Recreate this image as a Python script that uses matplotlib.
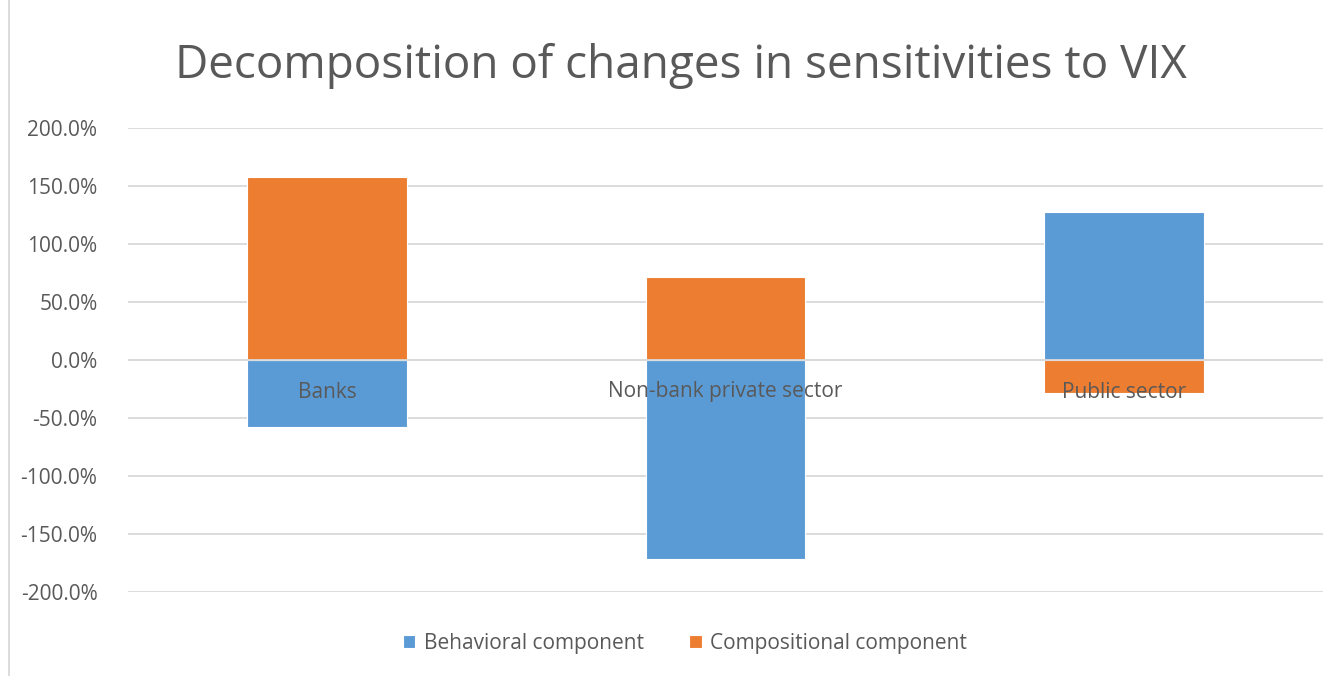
import matplotlib.pyplot as plt
import numpy as np
from matplotlib.patches import Rectangle
from matplotlib.ticker import FuncFormatter
from matplotlib.transforms import offset_copy

categories = ["Banks", "Non-bank private sector", "Public sector"]
behavioral = [-58.0, -171.5, 128.0]
compositional = [157.5, 71.3, -28.2]
series_names = ["Behavioral component", "Compositional component"]
y_ticks = [-200, -150, -100, -50, 0, 50, 100, 150, 200]

blue = "#5B9BD5"
orange = "#ED7D31"
text_col = "#595959"
grid_col = "#D9D9D9"

plt.rcParams["font.family"] = ["Open Sans", "DejaVu Sans"]

fig = plt.figure(figsize=(13.4, 6.76), dpi=100)
ax = fig.add_axes([128 / 1340, 1 - 592 / 676, (1323 - 128) / 1340, (592 - 128) / 676])

x = np.arange(len(categories))
beh = np.array(behavioral)
comp = np.array(compositional)

# Stack each component on its own sign side, like a stacked column chart
beh_base = np.zeros_like(beh)
comp_base = np.where(np.sign(comp) == np.sign(beh), beh, 0.0)

ax.bar(x, beh, width=0.4, bottom=beh_base, color=blue, edgecolor="white",
       linewidth=0.8, label=series_names[0], zorder=3)
ax.bar(x, comp, width=0.4, bottom=comp_base, color=orange, edgecolor="white",
       linewidth=0.8, label=series_names[1], zorder=3)

ax.set_xlim(-0.5, len(categories) - 0.5)
ax.set_ylim(-200, 200)
ax.set_yticks(y_ticks)
ax.yaxis.set_major_formatter(FuncFormatter(lambda v, p: f"{v:.1f}%"))
ax.yaxis.grid(True, color=grid_col, linewidth=1.3, zorder=0)
ax.set_axisbelow(True)

for s in ["top", "right", "left", "bottom"]:
    ax.spines[s].set_visible(False)
ax.axhline(0, color=grid_col, linewidth=1.3, zorder=4)

ax.set_xticks([])
ax.tick_params(axis="y", length=0, pad=22, labelsize=15, labelcolor=text_col)

# Category labels sit just below the zero line, drawn over the bars
label_tf = offset_copy(ax.transData, fig=fig, x=0, y=-32, units="dots")
for xi, name in zip(x, categories):
    ax.text(xi, 0, name, transform=label_tf, ha="center", va="center",
            fontsize=15, color=text_col, zorder=6)

fig.text(681 / 1340, 1 - 66 / 676, "Decomposition of changes in sensitivities to VIX",
         ha="center", va="center", fontsize=33, color=text_col)

leg = fig.legend(loc="center", bbox_to_anchor=(685 / 1340, 1 - 643 / 676), ncol=2,
                 frameon=False, fontsize=15, handlelength=0.6, handleheight=0.6,
                 columnspacing=2.2, handletextpad=0.4)
for t in leg.get_texts():
    t.set_color(text_col)

fig.patches.append(Rectangle((9 / 1340, -0.01), 1.02, 1.02, transform=fig.transFigure,
                             fill=False, edgecolor=grid_col, linewidth=1.3))

fig.savefig("out.png", dpi=100)
